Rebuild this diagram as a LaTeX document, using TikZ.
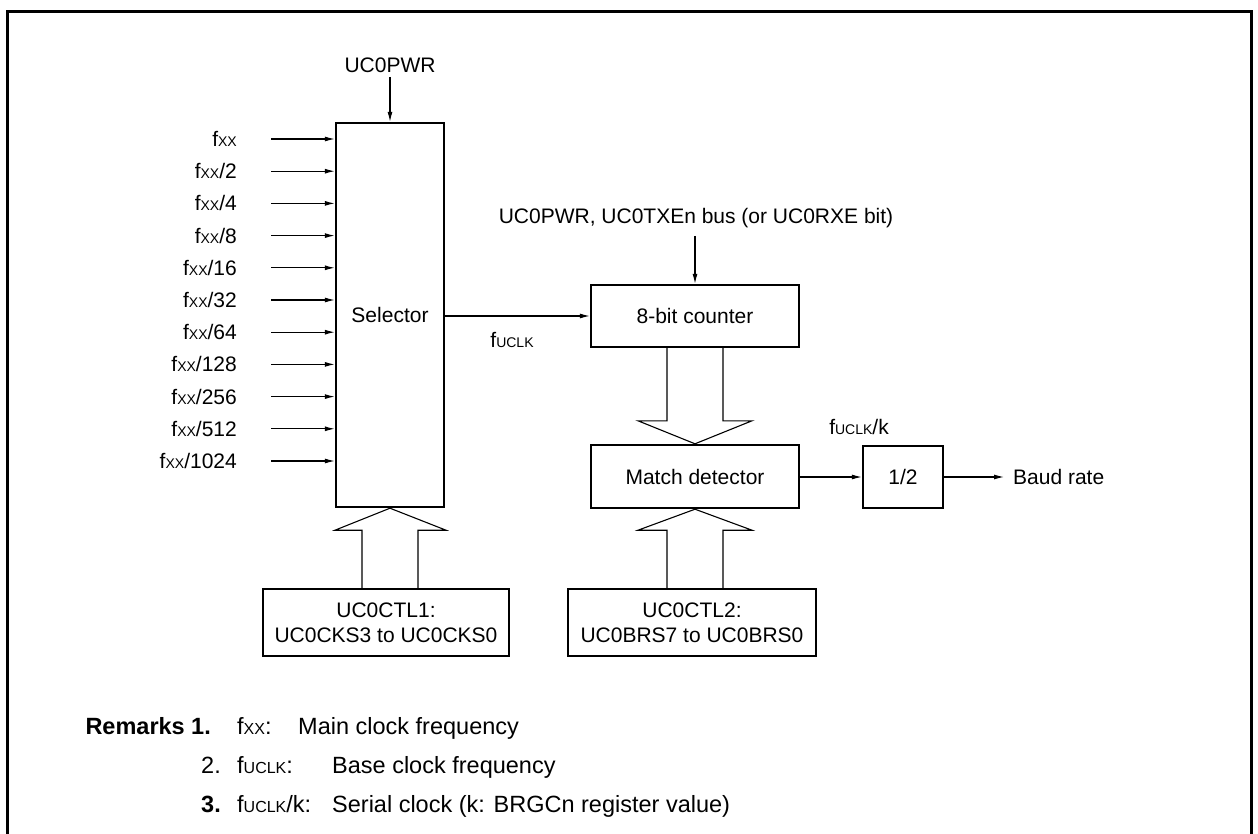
\documentclass[tikz,border=0pt]{standalone}
\usepackage{fontspec}
\setmainfont{Liberation Sans}
\usetikzlibrary{arrows.meta,calc}
\newcommand{\smc}[1]{{\fontsize{14}{14}\selectfont #1}}
\newcommand{\smr}[1]{{\fontsize{16}{16}\selectfont #1}}
\begin{document}
\begin{tikzpicture}[x=1pt,y=-1pt,
  every node/.style={font=\fontsize{21}{25}\selectfont,inner sep=0pt},
  blk/.style={draw,line width=2.4pt},
  arr/.style={-{Latex[length=10pt,width=5pt]},line width=1.1pt},
  bus/.style={line width=1.1pt,line join=miter},
  rmk/.style={font=\fontsize{23.5}{27}\selectfont,anchor=base west},
  rmkb/.style={font=\fontsize{23.5}{27}\selectfont\bfseries,anchor=base west}]
\useasboundingbox (0,0) rectangle (1258,834);
\draw[line width=3pt] (7,834) -- (7,12) -- (1251,12) -- (1251,834);

% selector
\node[blk,minimum width=108pt,minimum height=384pt] (sel) at (390,315) {Selector};
\node (pwr) at (390,65) {UC0PWR};
\draw[arr] (pwr.south |- 0,77) coordinate (pwrs) -- (pwrs |- sel.north);

\foreach \lab [count=\i from 0] in {{},/2,/4,/8,/16,/32,/64,/128,/256,/512,/1024} {
  \pgfmathsetmacro\yy{139+32.2*\i}
  \node[anchor=east] (lab\i) at (237,\yy) {f\smc{XX}\lab};
  \coordinate (in\i) at (271,\yy);
  \draw[arr] (in\i) -- (in\i -| sel.west);
}

% counter
\node[blk,minimum width=208pt,minimum height=62pt] (cnt) at (695,316) {8-bit counter};
\node (txen) at (696,218) {UC0PWR, UC0TXEn bus (or UC0RXE bit)};
\coordinate (txs) at (695,236);
\draw[arr] (txs) -- (txs |- cnt.north);
\draw[arr] (sel.east |- cnt.west) -- (cnt.west);
\node (fuclk) at (512,340) {f\smc{UCLK}};

% match detector
\node[blk,minimum width=208pt,minimum height=63pt] (md) at (695,476.5) {Match detector};
\draw[bus] ($(cnt.south)+(-28,0)$) -- ($(md.north)+(-28,-23)$) -- ($(md.north)+(-57,-23)$)
  -- (md.north) -- ($(md.north)+(57,-23)$) -- ($(md.north)+(28,-23)$) -- ($(cnt.south)+(28,0)$);

% 1/2
\node[blk,minimum width=80pt,minimum height=62pt] (half) at (903,477) {1/2};
\draw[arr] (md.east |- half.west) -- (half.west);
\node (fk) at (859,427) {f\smc{UCLK}/k};
\coordinate (bd) at (1004,477);
\draw[arr] (half.east) -- (bd);
\node[anchor=west] (baud) at (1013,477) {Baud rate};

% control registers
\node[blk,minimum width=246pt,minimum height=67pt,align=center] (ctl1) at (386,622.5) {UC0CTL1:\\UC0CKS3 to UC0CKS0};
\node[blk,minimum width=248pt,minimum height=67pt,align=center] (ctl2) at (692,622.5) {UC0CTL2:\\UC0BRS7 to UC0BRS0};

\draw[bus] ($(md.south |- ctl2.north)+(-28,0)$) -- ($(md.south)+(-28,21)$) -- ($(md.south)+(-57,21)$)
  -- (md.south) -- ($(md.south)+(57,21)$) -- ($(md.south)+(28,21)$) -- ($(md.south |- ctl2.north)+(28,0)$);
\draw[bus] ($(sel.south |- ctl1.north)+(-28,0)$) -- ($(sel.south)+(-28,22)$) -- ($(sel.south)+(-55,22)$)
  -- (sel.south) -- ($(sel.south)+(56,22)$) -- ($(sel.south)+(28,22)$) -- ($(sel.south |- ctl1.north)+(28,0)$);

% remarks
\node[rmkb,anchor=base east] (rm) at (185,734) {Remarks};
\node[rmkb] (r1) at (191,734) {1.};
\node[rmk] (r1a) at (237,734) {f\smr{XX}:};
\node[rmk] (r1b) at (298,734) {Main clock frequency};
\node[rmk] (r2) at (201,773) {2.};
\node[rmk] (r2a) at (237,773) {f\smr{UCLK}:};
\node[rmk] (r2b) at (332,773) {Base clock frequency};
\node[rmkb] (r3) at (201,812) {3.};
\node[rmk] (r3a) at (237,812) {f\smr{UCLK}/k:};
\node[rmk] (r3b) at (332,812) {Serial clock (k: BRGCn register value)};
\end{tikzpicture}
\end{document}
